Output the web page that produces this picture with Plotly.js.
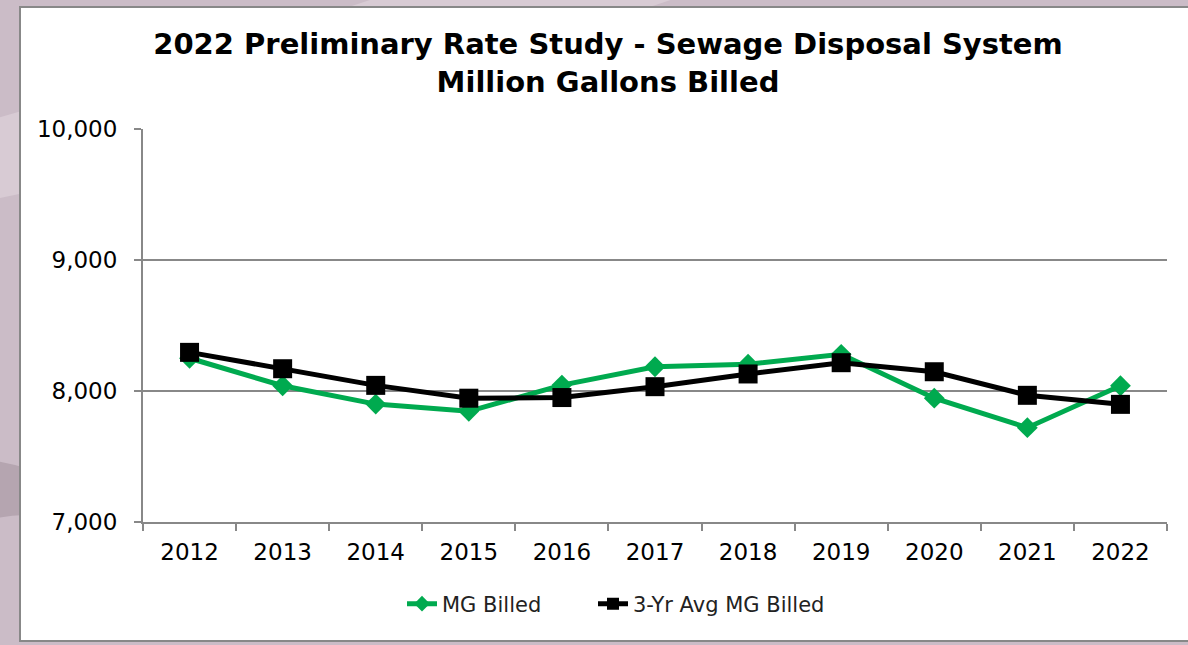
<!DOCTYPE html>
<html>
<head>
<meta charset="utf-8">
<script src="https://cdn.plot.ly/plotly-3.0.1.min.js"></script>
<style>html,body{margin:0;padding:0;background:#cbbcc7;}#chart{width:1188px;height:645px;}</style>
</head>
<body>
<div id="chart"></div>
<script>
const years = ['2012','2013','2014','2015','2016','2017','2018','2019','2020','2021','2022'];
const mgBilled = [8250, 8040, 7900, 7845, 8045, 8185, 8205, 8280, 7945, 7720, 8040];
const avgBilled = [8295, 8170, 8043, 7945, 7950, 8033, 8130, 8216, 8147, 7967, 7898];
const yTicks = [7000, 8000, 9000, 10000];

const L = 143, R = 21, T = 129, B = 123, W = 1188, H = 645;
const pw = W - L - R, ph = H - T - B;
const px = x => (x - L) / pw;
const py = y => (H - B - y) / ph;

const traces = [
  {
    x: years, y: mgBilled, name: 'MG Billed', type: 'scatter', mode: 'lines+markers',
    line: {color: '#00aa4f', width: 5},
    marker: {symbol: 'diamond', size: 16, color: '#00aa4f'},
    legend: 'legend'
  },
  {
    x: years, y: avgBilled, name: '3-Yr Avg MG Billed', type: 'scatter', mode: 'lines+markers',
    line: {color: '#000000', width: 5},
    marker: {symbol: 'square', size: 19, color: '#000000'},
    legend: 'legend2'
  }
];

const legendBase = {
  orientation: 'h', xanchor: 'left', y: py(604), yanchor: 'middle',
  font: {size: 21, color: '#222'}, bgcolor: 'rgba(0,0,0,0)', itemwidth: 30,
  itemsizing: 'constant'
};

const layout = {
  width: W, height: H,
  margin: {l: L, r: R, t: T, b: B, pad: 0},
  paper_bgcolor: '#cbbcc7',
  plot_bgcolor: 'rgba(0,0,0,0)',
  font: {family: 'DejaVu Sans, Verdana, sans-serif', color: '#000'},
  title: {
    text: '<b>2022 Preliminary Rate Study - Sewage Disposal System<br>Million Gallons Billed</b>',
    font: {size: 29, color: '#000', family: 'DejaVu Sans, Verdana, sans-serif'},
    x: 608 / W, xanchor: 'center', xref: 'container',
    y: 1 - 54 / H, yanchor: 'top', yref: 'container'
  },
  xaxis: {
    type: 'category', range: [-0.5, 10.5],
    showline: true, linecolor: '#888', linewidth: 2,
    ticks: 'outside', ticklen: 7, tickwidth: 2, tickcolor: '#888',
    tickson: 'boundaries', showgrid: false, zeroline: false,
    tickfont: {size: 23, color: '#000'}, ticklabelstandoff: 8,
    fixedrange: true
  },
  yaxis: {
    range: [7000, 10000], tickvals: yTicks, tickformat: ',d',
    showline: true, linecolor: '#888', linewidth: 2,
    ticks: 'outside', ticklen: 7, tickwidth: 2, tickcolor: '#888',
    showgrid: true, gridcolor: '#888', gridwidth: 2, zeroline: false,
    tickfont: {size: 23, color: '#000'}, ticklabelstandoff: 12,
    fixedrange: true
  },
  legend: Object.assign({}, legendBase, {x: px(402)}),
  legend2: Object.assign({}, legendBase, {x: px(593)}),
  showlegend: true,
  shapes: [
    {type: 'path', xref: 'paper', yref: 'paper', layer: 'below',
     path: `M ${px(-10)} ${py(460)} Q ${px(60)} ${py(470)} ${px(120)} ${py(520)} L ${px(120)} ${py(560)} Q ${px(60)} ${py(500)} ${px(-10)} ${py(520)} Z`,
     fillcolor: '#b5a5b0', line: {width: 0}},
    {type: 'path', xref: 'paper', yref: 'paper', layer: 'below',
     path: `M ${px(-10)} ${py(120)} Q ${px(100)} ${py(90)} ${px(400)} ${py(-10)} L ${px(700)} ${py(-10)} Q ${px(200)} ${py(160)} ${px(-10)} ${py(200)} Z`,
     fillcolor: '#d8cbd4', line: {width: 0}},
    {type: 'rect', xref: 'paper', yref: 'paper', layer: 'below',
     x0: px(20), x1: px(1200), y0: py(641), y1: py(7),
     fillcolor: '#ffffff', line: {color: '#888', width: 2}}
  ]
};

Plotly.newPlot('chart', traces, layout, {displayModeBar: false, staticPlot: true});
</script>
</body>
</html>
